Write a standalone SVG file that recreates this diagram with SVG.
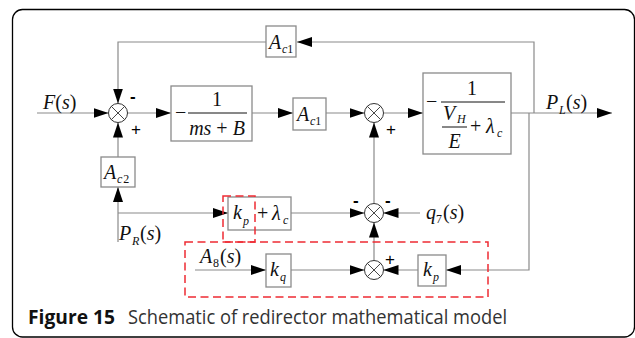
<svg xmlns="http://www.w3.org/2000/svg" width="635" height="338" viewBox="0 0 635 338">
<defs>
<marker id="ah" markerWidth="15" markerHeight="10" refX="15" refY="5" orient="auto" markerUnits="userSpaceOnUse"><path d="M0,0 L15,5 L0,10 z" fill="#000"/></marker>
<style>
.ln{fill:none;stroke:#8a8a8a;stroke-width:1.2}
.bx{fill:#fff;stroke:#8a8a8a;stroke-width:1.3}
.sj{fill:#fff;stroke:#333;stroke-width:1}
.x{stroke:#333;stroke-width:0.9}
.m{font-family:'Liberation Serif','Times New Roman','DejaVu Serif',serif;font-style:italic;font-size:20px;fill:#111}
.u{font-family:'Liberation Serif','Times New Roman','DejaVu Serif',serif;font-style:normal;font-size:20px;fill:#111}
.s{font-family:'Liberation Serif','Times New Roman','DejaVu Serif',serif;font-style:italic;font-size:12px;fill:#111}
.su{font-family:'Liberation Serif','Times New Roman','DejaVu Serif',serif;font-style:normal;font-size:12px;fill:#111}
.sg{font-family:'Liberation Sans',sans-serif;font-size:17px;fill:#000}
.bar{stroke:#111;stroke-width:1}
.red{fill:none;stroke:#ee2b33;stroke-width:1.5;stroke-dasharray:8,4.5}
</style>
</defs>
<rect x="12.5" y="9.5" width="622" height="327.5" rx="10" fill="#fff" stroke="#000" stroke-width="1.3"/>

<g id="connectors">
<path class="ln" d="M37,113 H108.5" marker-end="url(#ah)"/>
<path class="ln" d="M534,113 V42 H297" marker-end="url(#ah)"/>
<path class="ln" d="M266,42 H118 V103.5" marker-end="url(#ah)"/>
<path class="ln" d="M118,157 V122.5" marker-end="url(#ah)"/>
<path class="ln" d="M118,242 V187" marker-end="url(#ah)"/>
<path class="ln" d="M118,213 H228" marker-end="url(#ah)"/>
<path class="ln" d="M127.5,113 H171" marker-end="url(#ah)"/>
<path class="ln" d="M252,113 H293" marker-end="url(#ah)"/>
<path class="ln" d="M326,113 H364.5" marker-end="url(#ah)"/>
<path class="ln" d="M383.5,113 H423" marker-end="url(#ah)"/>
<path class="ln" d="M511,113 H612" marker-end="url(#ah)"/>
<path class="ln" d="M529,113 V270 H446" marker-end="url(#ah)"/>
<path class="ln" d="M418,270 H383.5" marker-end="url(#ah)"/>
<path class="ln" d="M195,270 H266" marker-end="url(#ah)"/>
<path class="ln" d="M291,270 H364.5" marker-end="url(#ah)"/>
<path class="ln" d="M374,260.5 V222.5" marker-end="url(#ah)"/>
<path class="ln" d="M374,203.5 V122.5" marker-end="url(#ah)"/>
<path class="ln" d="M291,213 H364.5" marker-end="url(#ah)"/>
<path class="ln" d="M420,213 H383.5" marker-end="url(#ah)"/>
</g>

<g id="sum1">
<circle class="sj" cx="118" cy="113" r="9.5"/>
<path class="x" d="M111.3,106.3 L124.7,119.7 M124.7,106.3 L111.3,119.7"/>
<text class="sg" x="130" y="102" font-weight="bold">-</text>
<text class="sg" x="131" y="135">+</text>
</g>
<g id="sum2">
<circle class="sj" cx="374" cy="113" r="9.5"/>
<path class="x" d="M367.3,106.3 L380.7,119.7 M380.7,106.3 L367.3,119.7"/>
<text class="sg" x="386" y="135">+</text>
</g>
<g id="sum3">
<circle class="sj" cx="374" cy="213" r="9.5"/>
<path class="x" d="M367.3,206.3 L380.7,219.7 M380.7,206.3 L367.3,219.7"/>
<text class="sg" x="353" y="206" font-weight="bold">-</text>
<text class="sg" x="385" y="206" font-weight="bold">-</text>
</g>
<g id="sum4">
<circle class="sj" cx="374" cy="270" r="9.5"/>
<path class="x" d="M367.3,263.3 L380.7,276.7 M380.7,263.3 L367.3,276.7"/>
<text class="sg" x="385" y="265">+</text>
</g>

<g id="in-F">
<text class="m" x="43" y="109">F<tspan class="u">(</tspan>s<tspan class="u">)</tspan></text>
</g>

<g id="box-Ac1-top">
<rect class="bx" x="266" y="26" width="30" height="31"/>
<text class="m" x="269" y="49">A</text>
<text class="s" x="282" y="53">c<tspan class="su">1</tspan></text>
</g>

<g id="box-msB">
<rect class="bx" x="171" y="86" width="81" height="55"/>
<text class="u" x="175" y="119">−</text>
<line class="bar" x1="188" y1="113" x2="247" y2="113"/>
<text class="u" x="217" y="106" text-anchor="middle">1</text>
<text class="m" x="217" y="135" text-anchor="middle">ms <tspan class="u">+</tspan> B</text>
</g>

<g id="box-Ac1-mid">
<rect class="bx" x="293" y="98" width="33" height="32"/>
<text class="m" x="297" y="121">A</text>
<text class="s" x="310" y="125">c<tspan class="su">1</tspan></text>
</g>

<g id="box-big">
<rect class="bx" x="423" y="73" width="88" height="81"/>
<text class="u" x="426" y="108">−</text>
<line class="bar" x1="441" y1="102" x2="505" y2="102"/>
<text class="u" x="472" y="95" text-anchor="middle">1</text>
<text class="m" x="443" y="120">V</text>
<text class="s" x="457" y="123">H</text>
<line class="bar" x1="442" y1="127" x2="467" y2="127"/>
<text class="m" x="454.5" y="148" text-anchor="middle">E</text>
<text class="u" x="470" y="133">+</text>
<text class="m" x="486" y="133">λ</text>
<text class="s" x="497" y="137">c</text>
</g>

<g id="out-PL">
<text class="m" x="546" y="109">P</text>
<text class="s" x="559" y="114">L</text>
<text class="u" x="566" y="109">(<tspan class="m">s</tspan>)</text>
</g>

<g id="box-Ac2">
<rect class="bx" x="101" y="157" width="34" height="30"/>
<text class="m" x="104" y="179">A</text>
<text class="s" x="117" y="183">c<tspan class="su" dx="1">2</tspan></text>
</g>

<g id="in-PR">
<text class="m" x="119" y="240">P</text>
<text class="s" x="132" y="245">R</text>
<text class="u" x="140" y="240">(<tspan class="m">s</tspan>)</text>
</g>

<g id="box-kp-lambda">
<rect class="bx" x="228" y="197" width="63" height="33"/>
<text class="m" x="233" y="219">k</text>
<text class="s" x="243" y="225">p</text>
<text class="u" x="257" y="220">+</text>
<text class="m" x="272" y="220">λ</text>
<text class="s" x="283" y="224">c</text>
</g>

<g id="in-q7">
<text class="m" x="426" y="219">q</text>
<text class="su" x="436" y="223">7</text>
<text class="u" x="443" y="219">(<tspan class="m">s</tspan>)</text>
</g>

<g id="in-A8">
<text class="m" x="200" y="263">A</text>
<text class="su" x="213" y="267">8</text>
<text class="u" x="220" y="263">(<tspan class="m">s</tspan>)</text>
</g>

<g id="box-kq">
<rect class="bx" x="266" y="254" width="25" height="33"/>
<text class="m" x="270" y="276">k</text>
<text class="s" x="280" y="281">q</text>
</g>

<g id="box-kp-low">
<rect class="bx" x="418" y="255" width="28" height="31"/>
<text class="m" x="423" y="276">k</text>
<text class="s" x="433" y="281">p</text>
</g>

<g id="highlight">
<rect class="red" x="223" y="196" width="32" height="46"/>
<rect class="red" x="185" y="242" width="303" height="55"/>
</g>

<g id="caption">
<text x="28" y="324" font-family="'Open Sans',sans-serif" font-weight="bold" font-size="20" fill="#111" textLength="87" lengthAdjust="spacingAndGlyphs">Figure 15</text>
<text x="128" y="324" font-family="'Open Sans',sans-serif" font-size="20" fill="#333" textLength="379" lengthAdjust="spacingAndGlyphs">Schematic of redirector mathematical model</text>
</g>
</svg>
